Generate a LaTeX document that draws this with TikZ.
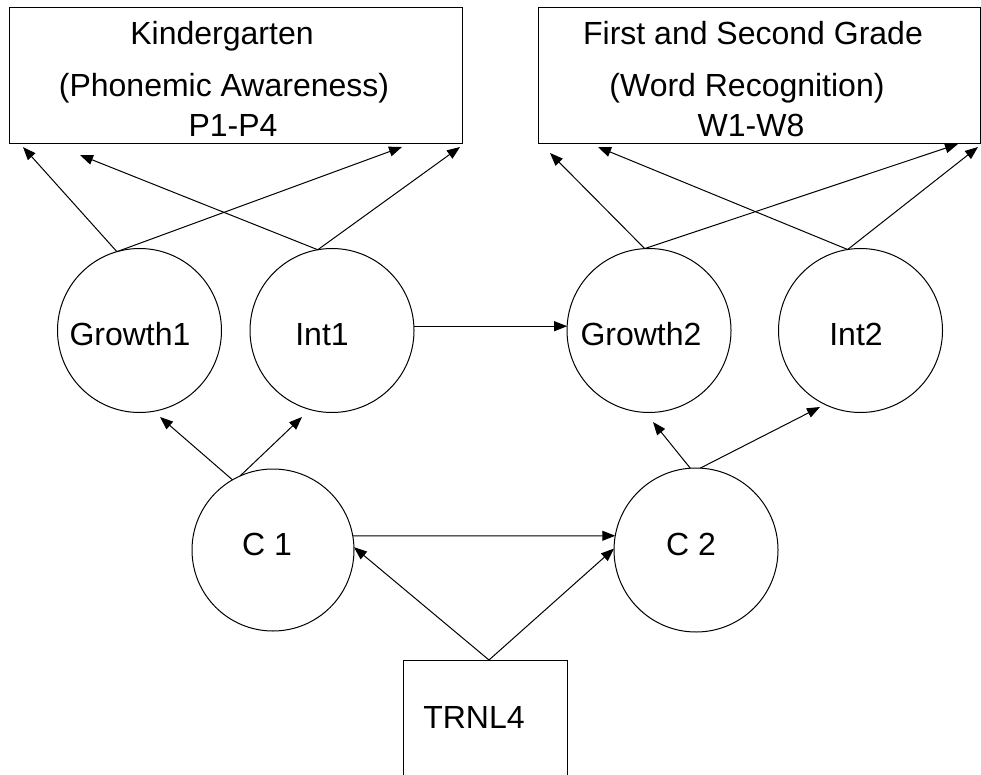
\documentclass[tikz,border=0pt]{standalone}
\usepackage{fontspec}
\setmainfont{Liberation Sans}
\usetikzlibrary{arrows.meta,calc}
\begin{document}
\begin{tikzpicture}[x=1pt,y=-1pt,
  every node/.style={inner sep=0pt, outer sep=0pt},
  latent/.style={draw, circle, line width=1pt},
  rbox/.style={draw, rectangle, line width=1pt},
  lbl/.style={anchor=base, font=\fontsize{32}{38}\selectfont},
  arr/.style={line width=1pt, -{Triangle[length=13pt,width=10pt]}}
]
\useasboundingbox (0,0) rectangle (981,775);

% boxes
\node[rbox, minimum width=453pt, minimum height=136pt] (k) at (235.5,76) {};
\node[rbox, minimum width=442pt, minimum height=136pt] (w) at (759,76) {};
\node[lbl] (kt1) at (222,45) {Kindergarten};
\node[lbl] (kt2) at (224,97) {(Phonemic Awareness)};
\node[lbl] (kt3) at (233,137) {P1-P4};
\node[lbl] (wt1) at (753,45) {First and Second Grade};
\node[lbl] (wt2) at (747,97) {(Word Recognition)};
\node[lbl] (wt3) at (751,137) {W1-W8};

% latent circles
\node[latent, minimum size=164pt] (g1) at (139.5,330.5) {};
\node[latent, minimum size=164pt] (i1) at (332,330.5) {};
\node[latent, minimum size=164pt] (g2) at (649,330.5) {};
\node[latent, minimum size=164pt] (i2) at (860.5,330.5) {};
\node[latent, minimum size=162pt] (c1) at (273,550) {};
\node[latent, minimum size=164pt] (c2) at (696,550) {};
\node[lbl] (g1t) at (130,345) {Growth1};
\node[lbl] (i1t) at (322,345) {Int1};
\node[lbl] (g2t) at (641,345) {Growth2};
\node[lbl] (i2t) at (856,345) {Int2};
\node[lbl] (c1t) at (267,555) {C 1};
\node[lbl] (c2t) at (691,555) {C 2};

% observed covariate
\node[rbox, minimum width=164pt, minimum height=130pt] (tr) at (485,725) {};
\node[lbl] (trt) at (474,728) {TRNL4};

% arrow end points
\coordinate (kA) at (23,147);
\coordinate (kB) at (80,155);
\coordinate (kC) at (402,147);
\coordinate (kD) at (460,147);
\coordinate (wA) at (550,153);
\coordinate (wB) at (598,147);
\coordinate (wC) at (958,144);
\coordinate (wD) at (978,147);
\coordinate (g1in) at (160,417);
\coordinate (i1in) at (302,417);
\coordinate (g2in) at (653,422);
\coordinate (i2in) at (820,407);
\coordinate (trtop) at (489,660);

% loadings
\draw[arr] (g1.106) -- (kA);
\draw[arr] (g1.106) -- (kC);
\draw[arr] (i1.100) -- (kB);
\draw[arr] (i1.100) -- (kD);
\draw[arr] (g2.93) -- (wA);
\draw[arr] (g2.93) -- (wC);
\draw[arr] (i2.99) -- (wB);
\draw[arr] (i2.99) -- (wD);

% structural paths
\draw[arr] (i1.3) -- (g2.177);
\draw[arr] (c1.120) -- (g1in);
\draw[arr] (c1.114) -- (i1in);
\draw[arr] (c2.94) -- (g2in);
\draw[arr] (c2.87) -- (i2in);
\draw[arr] (c1.10) -- (c2.170);
\draw[arr] (trtop) -- (c1.2);
\draw[arr] (trtop) -- (c2.179);
\end{tikzpicture}
\end{document}
